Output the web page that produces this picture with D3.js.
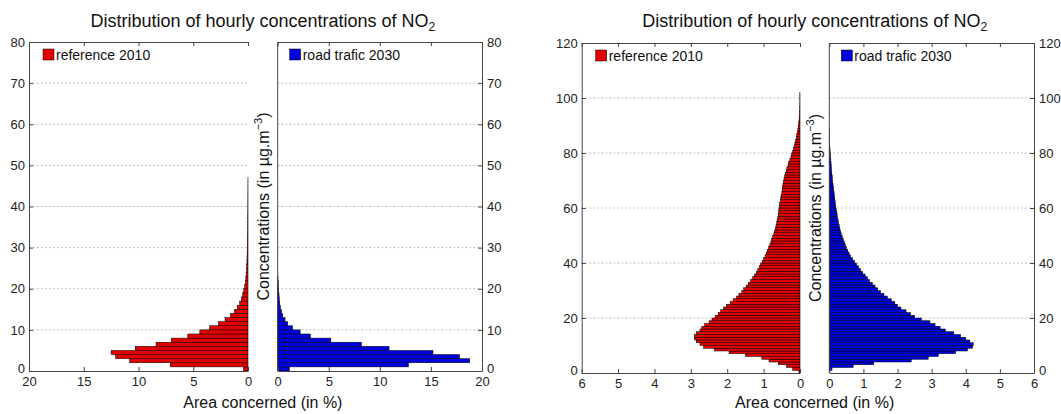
<!DOCTYPE html>
<html lang="en">
<head>
<meta charset="utf-8">
<title>Distribution of hourly concentrations of NO2</title>
<script src="https://d3js.org/d3.v7.min.js"></script>
<style>
body { margin: 0; background: #fff; }
svg { font-family: "Liberation Sans", Arial, sans-serif; }
.grid line { stroke: #aaa; stroke-dasharray: 1.5,2.5; stroke-width: 1; }
.frame { stroke: #444; stroke-width: 1; fill: none; }
.axis path, .axis line { stroke: #444; }
.axis text { font-size: 13px; fill: #222; }
.bar { stroke: #000; stroke-width: 0.5; }
</style>
</head>
<body>
<script>

// hourly NO2 distribution, bins of 1 µg/m3 starting at 0 (value = % of area)
var binWidth = 1;

// left chart (scale 0-80)
var reference2010A = [0.4, 7.1, 10.8, 12.1, 12.5, 10.3, 8.4, 7.0, 5.5, 4.4,
  3.5, 2.7, 2.1, 1.6, 1.25, 0.98, 0.76, 0.61, 0.48, 0.39,
  0.3, 0.24, 0.2, 0.17, 0.14, 0.12, 0.1, 0.09, 0.08, 0.07,
  0.06, 0.05, 0.045, 0.04, 0.035, 0.03, 0.028, 0.025, 0.022, 0.02,
  0.018, 0.016, 0.014, 0.012, 0.01, 0.008, 0.006];
var roadTrafic2030A = [1.14, 12.8, 18.8, 17.8, 15.2, 10.9, 8.2, 5.2, 3.2, 2.2,
  1.47, 0.98, 0.72, 0.49, 0.36, 0.26, 0.2, 0.16, 0.13, 0.1,
  0.07, 0.05, 0.03];

// right chart (scale 0-120)
var reference2010B = [0.03, 0.2, 0.37, 0.6, 0.85, 1.05, 1.5, 1.95, 2.35, 2.65,
  2.75, 2.85, 2.9, 2.9, 2.85, 2.75, 2.7, 2.62, 2.5, 2.42,
  2.33, 2.25, 2.18, 2.1, 2.02, 1.92, 1.84, 1.74, 1.68, 1.6,
  1.55, 1.48, 1.42, 1.36, 1.3, 1.25, 1.2, 1.16, 1.12, 1.08,
  1.04, 1.0, 0.96, 0.93, 0.9, 0.86, 0.83, 0.8, 0.78, 0.75,
  0.72, 0.7, 0.68, 0.66, 0.64, 0.63, 0.61, 0.6, 0.59, 0.58,
  0.57, 0.56, 0.54, 0.53, 0.52, 0.5, 0.49, 0.48, 0.47, 0.46,
  0.44, 0.42, 0.4, 0.38, 0.36, 0.33, 0.31, 0.28, 0.25, 0.23,
  0.2, 0.18, 0.16, 0.14, 0.12, 0.1, 0.09, 0.07, 0.06, 0.05,
  0.04, 0.03, 0.025, 0.02, 0.015, 0.01, 0.008, 0.006, 0.005, 0.005,
  0.005, 0.005];
var roadTrafic2030B = [0.0, 0.08, 0.7, 1.3, 2.4, 2.9, 3.2, 3.7, 4.05, 4.2,
  4.22, 4.12, 4.0, 3.85, 3.65, 3.4, 3.25, 3.1, 2.95, 2.7,
  2.5, 2.38, 2.25, 2.1, 2.0, 1.92, 1.82, 1.7, 1.6, 1.5,
  1.42, 1.34, 1.26, 1.18, 1.12, 1.05, 0.98, 0.92, 0.86, 0.8,
  0.74, 0.68, 0.62, 0.58, 0.54, 0.5, 0.47, 0.44, 0.41, 0.38,
  0.35, 0.33, 0.31, 0.29, 0.27, 0.26, 0.24, 0.23, 0.22, 0.2,
  0.19, 0.18, 0.17, 0.16, 0.15, 0.14, 0.13, 0.12, 0.11, 0.1,
  0.09, 0.085, 0.075, 0.07, 0.06, 0.055, 0.05, 0.045, 0.04, 0.03,
  0.025, 0.02, 0.015, 0.012, 0.01, 0.005, 0.005, 0.005, 0.005];

var xTicksA = [0, 5, 10, 15, 20];
var yTicksA = [0, 10, 20, 30, 40, 50, 60, 70, 80];
var xTicksB = [0, 1, 2, 3, 4, 5, 6];
var yTicksB = [0, 20, 40, 60, 80, 100, 120];

var legendRed = "reference 2010";
var legendBlue = "road trafic 2030";

var width = 1061, height = 414;
var fmt = d3.format("d");

var svg = d3.select("body").append("svg")
    .attr("width", width)
    .attr("height", height);

var charts = [
  { red: reference2010A, blue: roadTrafic2030A, xTicks: xTicksA, yTicks: yTicksA,
    left: [29, 248], right: [277.7, 482], top: 42, bottom: 371 },
  { red: reference2010B, blue: roadTrafic2030B, xTicks: xTicksB, yTicks: yTicksB,
    left: [581.7, 800], right: [829.3, 1034], top: 43, bottom: 373 }
];

charts.forEach(function(c) {
  var xmax = d3.max(c.xTicks), ymax = d3.max(c.yTicks);

  var y = d3.scaleLinear().domain([0, ymax]).range([c.bottom, c.top]);
  var xL = d3.scaleLinear().domain([0, xmax]).range([c.left[1], c.left[0]]);
  var xR = d3.scaleLinear().domain([0, xmax]).range([c.right[0], c.right[1]]);
  var mid = (c.left[1] + c.right[0]) / 2;

  var g = svg.append("g");

  // dotted gridlines
  [[c.left[0], c.left[1]], [c.right[0], c.right[1]]].forEach(function(r) {
    g.append("g").attr("class", "grid")
      .selectAll("line")
      .data(c.yTicks.filter(function(t) { return t > 0 && t < ymax; }))
      .enter().append("line")
        .attr("x1", r[0]).attr("x2", r[1])
        .attr("y1", function(d) { return y(d); })
        .attr("y2", function(d) { return y(d); });
  });

  // red bars (grow leftwards)
  g.append("g").selectAll("rect")
    .data(c.red.map(function(v, i) { return { lo: i * binWidth, v: v }; })
      .filter(function(d) { return d.v > 0; }))
    .enter().append("rect")
      .attr("class", "bar")
      .attr("fill", "#e00000")
      .attr("x", function(d) { return xL(d.v); })
      .attr("width", function(d) { return xL(0) - xL(d.v); })
      .attr("y", function(d) { return y(d.lo + binWidth); })
      .attr("height", function(d) { return y(d.lo) - y(d.lo + binWidth); });

  // blue bars (grow rightwards)
  g.append("g").selectAll("rect")
    .data(c.blue.map(function(v, i) { return { lo: i * binWidth, v: v }; })
      .filter(function(d) { return d.v > 0; }))
    .enter().append("rect")
      .attr("class", "bar")
      .attr("fill", "#0000dd")
      .attr("x", xR(0))
      .attr("width", function(d) { return xR(d.v) - xR(0); })
      .attr("y", function(d) { return y(d.lo + binWidth); })
      .attr("height", function(d) { return y(d.lo) - y(d.lo + binWidth); });

  // bottom axes, ticks pointing inwards
  g.append("g").attr("class", "axis")
    .attr("transform", "translate(0," + c.bottom + ")")
    .call(d3.axisBottom(xL).tickValues(c.xTicks).tickFormat(fmt).tickSizeInner(-4).tickSizeOuter(0).tickPadding(6));
  g.append("g").attr("class", "axis")
    .attr("transform", "translate(0," + c.bottom + ")")
    .call(d3.axisBottom(xR).tickValues(c.xTicks).tickFormat(fmt).tickSizeInner(-4).tickSizeOuter(0).tickPadding(6));

  // top frame with ticks
  g.append("g").attr("class", "axis")
    .attr("transform", "translate(0," + c.top + ")")
    .call(d3.axisTop(xL).tickValues(c.xTicks).tickSizeInner(-4).tickSizeOuter(0).tickFormat(""));
  g.append("g").attr("class", "axis")
    .attr("transform", "translate(0," + c.top + ")")
    .call(d3.axisTop(xR).tickValues(c.xTicks).tickSizeInner(-4).tickSizeOuter(0).tickFormat(""));

  // y axes: labels on the far left and far right
  var yLeft = g.append("g").attr("class", "axis")
    .attr("transform", "translate(" + c.left[0] + ",0)")
    .call(d3.axisLeft(y).tickValues(c.yTicks).tickFormat(fmt).tickSizeInner(-4).tickSizeOuter(0).tickPadding(4));
  var yRight = g.append("g").attr("class", "axis")
    .attr("transform", "translate(" + c.right[1] + ",0)")
    .call(d3.axisRight(y).tickValues(c.yTicks).tickFormat(fmt).tickSizeInner(-4).tickSizeOuter(0).tickPadding(5));

  // lift the corner zeros a little so they sit above the x labels
  [yLeft, yRight].forEach(function(a) {
    a.selectAll(".tick text").filter(function(d) { return d === 0; })
      .attr("y", -3);
  });

  // left edge of right panel
  g.append("line").attr("class", "frame")
    .attr("x1", c.right[0]).attr("x2", c.right[0])
    .attr("y1", c.top).attr("y2", c.bottom);

  // legends
  var legends = [
    { x: c.left[0] + 14, color: "#e00000", label: legendRed },
    { x: c.right[0] + 12, color: "#0000dd", label: legendBlue }
  ];
  legends.forEach(function(l) {
    g.append("rect")
      .attr("x", l.x).attr("y", c.top + 7)
      .attr("width", 11).attr("height", 11)
      .attr("fill", l.color).attr("stroke", "#000").attr("stroke-width", 0.5);
    g.append("text")
      .attr("x", l.x + 13).attr("y", c.top + 17.5)
      .style("font-size", "14px").style("fill", "#111")
      .text(l.label);
  });

  // title
  var title = g.append("text")
    .attr("x", mid).attr("y", 27)
    .attr("text-anchor", "middle")
    .style("font-size", "18px").style("fill", "#111")
    .text("Distribution of hourly concentrations of NO");
  title.append("tspan").attr("dy", 4).style("font-size", "12px").text("2");

  // x label
  g.append("text")
    .attr("x", mid).attr("y", 408)
    .attr("text-anchor", "middle")
    .style("font-size", "16px").style("fill", "#111")
    .text("Area concerned (in %)");

  // y label
  var yl = g.append("text")
    .attr("transform", "translate(" + (mid + 6) + "," + ((c.top + c.bottom) / 2) + ") rotate(-90)")
    .attr("text-anchor", "middle")
    .style("font-size", "16px").style("fill", "#111")
    .text("Concentrations (in µg.m");
  yl.append("tspan").attr("dy", -7).style("font-size", "11px").text("−3");
  yl.append("tspan").attr("dy", 7).text(")");
});

</script>
</body>
</html>
